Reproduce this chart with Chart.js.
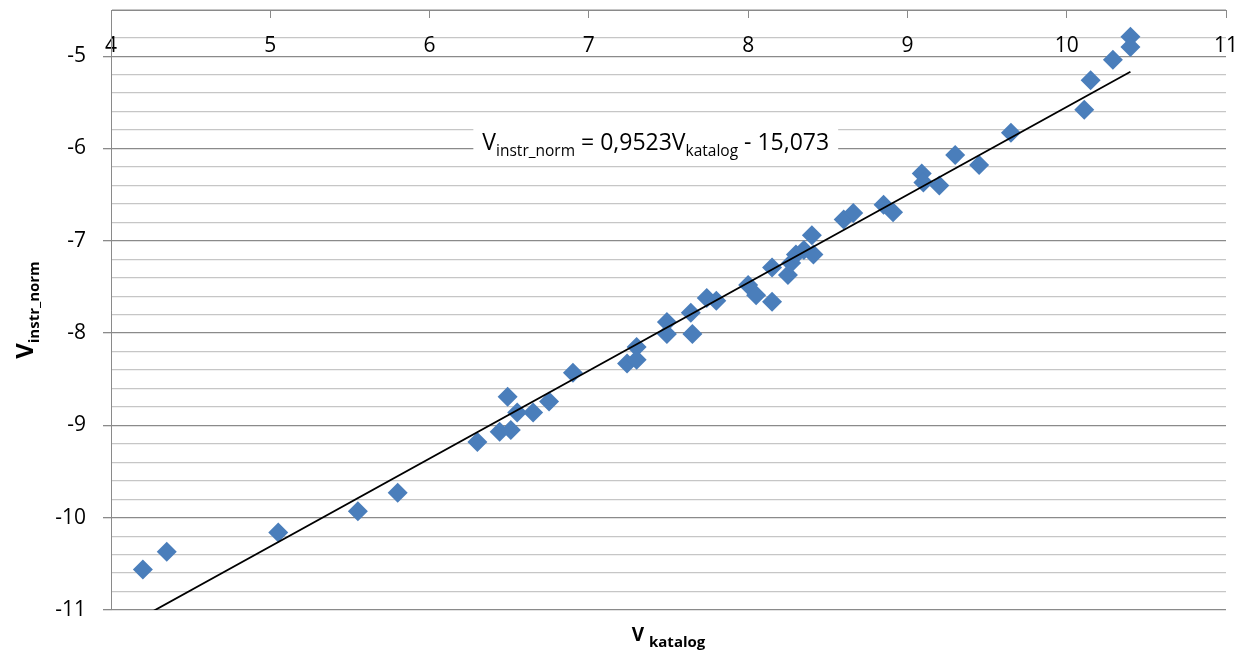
<!DOCTYPE html>
<html>
<head>
<meta charset="utf-8">
<script src="https://cdn.jsdelivr.net/npm/chart.js@4/dist/chart.umd.min.js"></script>
<style>
  html, body { margin: 0; padding: 0; background: #fff; }
  #wrap { width: 1240px; height: 651px; }
</style>
</head>
<body>
<div id="wrap"><canvas id="chart"></canvas></div>
<script>
// katalog magnitude (x) vs normalised instrumental magnitude (y)
const vKatalog = [4.20, 4.35, 5.05, 5.55, 5.80, 6.30, 6.44, 6.51, 6.49, 6.55,
  6.65, 6.75, 6.90, 7.24, 7.30, 7.30, 7.49, 7.49, 7.64, 7.65,
  7.74, 7.80, 8.00, 8.05, 8.15, 8.15, 8.25, 8.27, 8.30, 8.35,
  8.40, 8.41, 8.60, 8.66, 8.85, 8.91, 9.09, 9.10, 9.20, 9.30,
  9.45, 9.65, 10.11, 10.15, 10.29, 10.40, 10.40];
const vInstrNorm = [-10.56, -10.37, -10.16, -9.93, -9.73, -9.18, -9.07, -9.05, -8.69, -8.86,
  -8.86, -8.74, -8.43, -8.33, -8.15, -8.29, -7.88, -8.01, -7.78, -8.01,
  -7.62, -7.65, -7.48, -7.59, -7.66, -7.29, -7.37, -7.24, -7.15, -7.10,
  -6.94, -7.15, -6.77, -6.70, -6.61, -6.69, -6.27, -6.37, -6.40, -6.07,
  -6.18, -5.83, -5.58, -5.26, -5.04, -4.79, -4.90];

// Excel linear trendline
const slope = 0.9523;
const intercept = -15.073;
const eqText = '0,9523';
const eqConst = '15,073';

const xMin = 4, xMax = 11;
const yMin = -11, yMax = -4.5;

const FONT = '"Open Sans", "Noto Sans", sans-serif';
const majorGrid = '#8a8a8a';
const minorGrid = '#c6c6c6';

const points = vKatalog.map((x, i) => ({ x: x, y: vInstrNorm[i] }));
const xLo = Math.min(...vKatalog), xHi = Math.max(...vKatalog);
const trend = [
  { x: xLo, y: slope * xLo + intercept },
  { x: xHi, y: slope * xHi + intercept }
];

function isMajor(v) {
  return Math.abs(v - Math.round(v)) < 1e-6;
}

// draws the rich-text parts (subscripts) that Chart.js titles can't do
function drawRich(ctx, parts, x, y, align) {
  let total = 0;
  parts.forEach(p => { ctx.font = p.font; total += ctx.measureText(p.text).width; });
  let cx = align === 'center' ? x - total / 2 : x;
  parts.forEach(p => {
    ctx.font = p.font;
    ctx.fillText(p.text, cx, y + (p.dy || 0));
    cx += ctx.measureText(p.text).width;
  });
  return total;
}

const labelsPlugin = {
  id: 'labels',
  afterDraw(chart) {
    const ctx = chart.ctx;
    const area = chart.chartArea;
    const xs = chart.scales.x, ys = chart.scales.y;
    ctx.save();
    ctx.fillStyle = '#000';
    ctx.textBaseline = 'alphabetic';
    ctx.textAlign = 'left';

    // equation label with white box
    const eqParts = [
      { text: 'V', font: '23px ' + FONT },
      { text: 'instr_norm', font: '15.5px ' + FONT, dy: 6 },
      { text: ' = ' + eqText + 'V', font: '23px ' + FONT },
      { text: 'katalog', font: '15.5px ' + FONT, dy: 6 },
      { text: ' - ' + eqConst, font: '23px ' + FONT }
    ];
    let w = 0;
    eqParts.forEach(p => { ctx.font = p.font; w += ctx.measureText(p.text).width; });
    const ex = xs.getPixelForValue(7.42);
    const ey = ys.getPixelForValue(-6.02);
    ctx.fillStyle = '#fff';
    ctx.fillRect(ex - w / 2 - 9, ey - 28, w + 18, 40);
    ctx.fillStyle = '#000';
    drawRich(ctx, eqParts, ex, ey, 'center');

    // x axis title
    const xTitle = [
      { text: 'V ', font: 'bold 19px ' + FONT },
      { text: 'katalog', font: 'bold 15px ' + FONT, dy: 6 }
    ];
    drawRich(ctx, xTitle, (area.left + area.right) / 2, 641, 'center');

    // y axis title (rotated)
    ctx.translate(33, (area.top + area.bottom) / 2);
    ctx.rotate(-Math.PI / 2);
    const yTitle = [
      { text: 'V', font: 'bold 24px ' + FONT },
      { text: 'instr_norm', font: 'bold 15px ' + FONT, dy: 6 }
    ];
    drawRich(ctx, yTitle, 0, 0, 'center');
    ctx.restore();
  }
};

new Chart(document.getElementById('chart'), {
  type: 'scatter',
  data: {
    datasets: [
      {
        label: 'V instr_norm',
        data: points,
        pointStyle: 'rectRot',
        pointRadius: 10,
        pointHoverRadius: 10,
        backgroundColor: '#4a7ebb',
        borderColor: '#4a7ebb',
        borderWidth: 0,
        order: 2
      },
      {
        label: 'trend',
        type: 'line',
        data: trend,
        borderColor: '#000',
        borderWidth: 1.8,
        pointRadius: 0,
        fill: false,
        order: 1
      }
    ]
  },
  options: {
    responsive: true,
    maintainAspectRatio: false,
    animation: false,
    layout: { padding: { top: 10, right: 14, bottom: 41, left: 0 } },
    plugins: {
      legend: { display: false },
      tooltip: { enabled: false }
    },
    scales: {
      x: {
        type: 'linear',
        position: { y: yMax },
        min: xMin,
        max: xMax,
        afterFit(scale) { scale.paddingLeft = 0; scale.paddingRight = 0; },
        border: { display: true, color: majorGrid, width: 1 },
        grid: { drawOnChartArea: false, drawTicks: true, tickLength: 7, tickColor: majorGrid },
        ticks: {
          stepSize: 1,
          padding: 16,
          color: '#000',
          font: { family: FONT, size: 21 }
        }
      },
      y: {
        type: 'linear',
        min: yMin,
        max: yMax,
        afterFit(scale) {
          scale.width = 111;
          scale.paddingTop = 0;
          scale.paddingBottom = 0;
        },
        border: { display: true, color: majorGrid, width: 1 },
        grid: {
          color: ctx => isMajor(ctx.tick.value) ? majorGrid : minorGrid,
          lineWidth: 1.3,
          tickLength: 8,
          tickColor: ctx => isMajor(ctx.tick.value) ? majorGrid : 'rgba(0,0,0,0)'
        },
        ticks: {
          stepSize: 0.2,
          autoSkip: false,
          padding: 17,
          color: '#000',
          font: { family: FONT, size: 21 },
          callback: v => isMajor(v) ? String(Math.round(v)) : ''
        }
      }
    }
  },
  plugins: [labelsPlugin]
});
</script>
</body>
</html>
